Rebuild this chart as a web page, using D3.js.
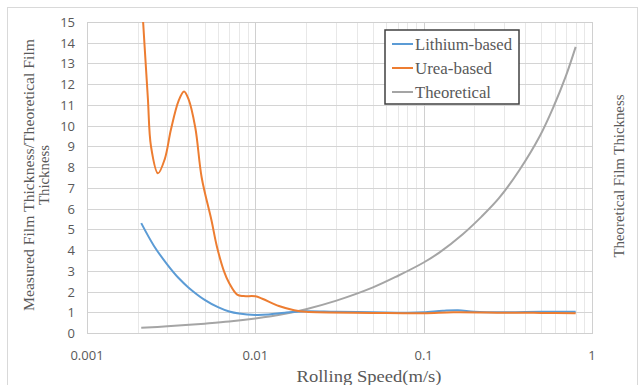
<!DOCTYPE html>
<html>
<head>
<meta charset="utf-8">
<script src="https://cdn.jsdelivr.net/npm/d3@7"></script>
<style>
  body { margin: 0; background: #fff; }
  svg { display: block; }
  .tick-label { font-family: "Open Sans", "Noto Sans", sans-serif; font-size: 13px; fill: #595959; }
  .serif { font-family: "Liberation Serif", "DejaVu Serif", serif; fill: #595959; }
</style>
</head>
<body>
<div id="chart"></div>
<script>
  // data
  const lithiumX = [0.0021, 0.0025, 0.003, 0.0035, 0.004, 0.005, 0.006, 0.007, 0.008, 0.01, 0.012, 0.015, 0.02, 0.03, 0.05, 0.08, 0.1, 0.13, 0.16, 0.2, 0.3, 0.5, 0.8]
  const lithiumY = [5.3, 4.2, 3.3, 2.65, 2.2, 1.6, 1.25, 1.04, 0.94, 0.87, 0.89, 0.98, 1.05, 1.02, 1.0, 0.98, 1.0, 1.07, 1.1, 1.03, 1.0, 1.02, 1.02]

  const ureaX = [0.0021, 0.0022, 0.0023, 0.0024, 0.00264, 0.0029, 0.00315, 0.0035, 0.00377, 0.004, 0.0044, 0.0048, 0.0055, 0.0059, 0.0065, 0.007, 0.0078, 0.0085, 0.01, 0.011, 0.0138, 0.017, 0.02, 0.05, 0.1, 0.15, 0.3, 0.5, 0.8]
  const ureaY = [16.5, 13.8, 11.3, 9.0, 7.7, 8.4, 9.8, 11.2, 11.65, 11.3, 9.9, 7.5, 5.4, 4.2, 3.0, 2.4, 1.85, 1.78, 1.77, 1.65, 1.3, 1.1, 1.02, 0.97, 0.95, 1.0, 0.98, 0.97, 0.95]

  const theoX = [0.0021, 0.003, 0.005, 0.007, 0.01, 0.015, 0.02, 0.03, 0.05, 0.07, 0.1, 0.125, 0.17, 0.22, 0.28, 0.37, 0.49, 0.59, 0.7, 0.8]
  const theoY = [0.25, 0.32, 0.45, 0.55, 0.7, 0.93, 1.15, 1.55, 2.2, 2.75, 3.4, 3.9, 4.75, 5.6, 6.5, 7.85, 9.5, 10.9, 12.4, 13.8]

  const seriesNames = ["Lithium-based", "Urea-based", "Theoretical"]
  const seriesColors = ["#5b9bd5", "#ed7d31", "#a5a5a5"]
  const xTicks = [0.001, 0.01, 0.1, 1]
  const xTickLabels = ["0.001", "0.01", "0.1", "1"]
  const yTicks = d3.range(0, 16)

  const W = 643, H = 385
  const pLeft = 87, pRight = 592, pTop = 22, pBottom = 333

  const svg = d3.select("#chart").append("svg")
    .attr("width", W).attr("height", H)

  // chart frame
  svg.append("rect")
    .attr("x", 7.5).attr("y", 7.5).attr("width", 630).attr("height", 390)
    .attr("fill", "none").attr("stroke", "#d9d9d9")

  const x = d3.scaleLog().domain([0.001, 1]).range([pLeft, pRight])
  const y = d3.scaleLinear().domain([0, 15]).range([pBottom, pTop])

  // minor vertical grid
  const minor = []
  for (let d = 0.001; d < 1; d *= 10) {
    for (let k = 2; k <= 9; k++) minor.push(d * k)
  }
  svg.append("g").selectAll("line").data(minor).join("line")
    .attr("x1", d => Math.round(x(d)) + 0.5).attr("x2", d => Math.round(x(d)) + 0.5)
    .attr("y1", pTop).attr("y2", pBottom)
    .attr("stroke", "#e8e8e8")

  // horizontal grid
  svg.append("g").selectAll("line").data(yTicks).join("line")
    .attr("x1", pLeft).attr("x2", pRight)
    .attr("y1", d => Math.round(y(d)) + 0.5).attr("y2", d => Math.round(y(d)) + 0.5)
    .attr("stroke", "#d4d4d4")

  // major vertical grid
  svg.append("g").selectAll("line").data(xTicks).join("line")
    .attr("x1", d => Math.round(x(d)) + 0.5).attr("x2", d => Math.round(x(d)) + 0.5)
    .attr("y1", pTop).attr("y2", pBottom)
    .attr("stroke", "#d0d0d0")

  // plot border
  svg.append("rect")
    .attr("x", pLeft + 0.5).attr("y", pTop + 0.5)
    .attr("width", pRight - pLeft).attr("height", pBottom - pTop)
    .attr("fill", "none").attr("stroke", "#d0d0d0")

  // tick labels
  svg.append("g").selectAll("text").data(yTicks).join("text")
    .attr("class", "tick-label")
    .attr("x", pLeft - 12).attr("y", d => y(d))
    .attr("text-anchor", "end").attr("dominant-baseline", "central")
    .text(d => d)
  svg.append("g").selectAll("text").data(xTicks).join("text")
    .attr("class", "tick-label")
    .attr("x", d => x(d)).attr("y", 355)
    .attr("text-anchor", "middle").attr("dominant-baseline", "central")
    .text((d, i) => xTickLabels[i])

  // lines
  svg.append("clipPath").attr("id", "clip")
    .append("rect").attr("x", pLeft).attr("y", pTop).attr("width", pRight - pLeft).attr("height", pBottom - pTop)

  const line = d3.line()
    .x(d => x(d[0])).y(d => y(d[1]))
    .curve(d3.curveCatmullRom.alpha(0.5))

  const series = [
    d3.zip(lithiumX, lithiumY),
    d3.zip(ureaX, ureaY),
    d3.zip(theoX, theoY)
  ]
  const lines = svg.append("g").attr("clip-path", "url(#clip)")
  // theoretical under, then lithium, urea on top
  ;[2, 0, 1].forEach(i => {
    lines.append("path")
      .attr("d", line(series[i]))
      .attr("fill", "none")
      .attr("stroke", seriesColors[i])
      .attr("stroke-width", 2)
      .attr("stroke-linejoin", "round")
  })

  // axis titles
  svg.append("text").attr("class", "serif")
    .attr("transform", "translate(29,175) rotate(-90)")
    .attr("text-anchor", "middle").attr("dominant-baseline", "central")
    .attr("font-size", 14).attr("textLength", 272).attr("lengthAdjust", "spacingAndGlyphs")
    .text("Measured Film Thickness/Theoretical Film")
  svg.append("text").attr("class", "serif")
    .attr("transform", "translate(44,175) rotate(-90)")
    .attr("text-anchor", "middle").attr("dominant-baseline", "central")
    .attr("font-size", 14).attr("textLength", 60).attr("lengthAdjust", "spacingAndGlyphs")
    .text("Thickness")
  svg.append("text").attr("class", "serif")
    .attr("transform", "translate(619,176) rotate(-90)")
    .attr("text-anchor", "middle").attr("dominant-baseline", "central")
    .attr("font-size", 14).attr("textLength", 163).attr("lengthAdjust", "spacingAndGlyphs")
    .text("Theoretical Film Thickness")
  svg.append("text").attr("class", "serif")
    .attr("x", 369).attr("y", 376)
    .attr("text-anchor", "middle").attr("dominant-baseline", "central")
    .attr("font-size", 16.5).attr("textLength", 145).attr("lengthAdjust", "spacingAndGlyphs")
    .text("Rolling Speed(m/s)")

  // legend
  const legend = svg.append("g")
  legend.append("rect")
    .attr("x", 385).attr("y", 30).attr("width", 134).attr("height", 74)
    .attr("fill", "#fff").attr("stroke", "#404040").attr("stroke-width", 1.5)
  const legendW = [97, 77, 76]
  const item = legend.selectAll("g").data(seriesNames).join("g")
    .attr("transform", (d, i) => `translate(392,${44 + i * 24})`)
  item.append("line")
    .attr("x1", 0).attr("x2", 21)
    .attr("stroke", (d, i) => seriesColors[i]).attr("stroke-width", 2)
  item.append("text").attr("class", "serif")
    .attr("x", 23).attr("dominant-baseline", "central")
    .attr("font-size", 16).attr("fill", "#404040")
    .attr("textLength", (d, i) => legendW[i]).attr("lengthAdjust", "spacingAndGlyphs")
    .text(d => d)
</script>
</body>
</html>
